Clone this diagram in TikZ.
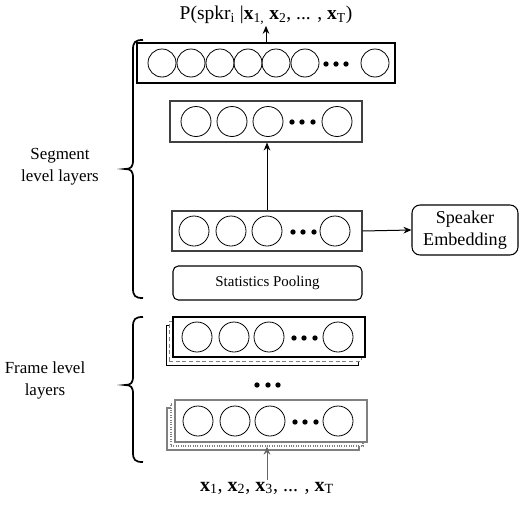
\documentclass[tikz,border=0pt]{standalone}
\usepackage{fontspec}
\setmainfont{Liberation Serif}
\usetikzlibrary{arrows.meta}
\tikzset{
  unit/.style={circle, draw, line width=0.6pt, minimum size=21pt, inner sep=0pt},
  bigunit/.style={unit, minimum size=22.5pt},
  dotnode/.style={circle, fill, inner sep=0pt, minimum size=4pt},
  layer/.style={draw, line width=0.8pt, inner sep=0pt, minimum height=30pt, fill=white},
  grayline/.style={draw=gray, line width=1.1pt},
  roundbox/.style={draw, line width=0.8pt, rounded corners=4pt, inner sep=0pt},
  conn/.style={line width=0.75pt, -{Stealth[length=6pt,width=5pt]}},
  brace/.style={line width=1.3pt},
  lbl/.style={font=\fontsize{12.7}{16.5}\selectfont, align=center},
}
\newcommand{\bx}[1]{\textbf{x}\textsubscript{#1}}
\begin{document}
\begin{tikzpicture}[x=0.75pt,y=-0.75pt]
\useasboundingbox (0,0) rectangle (519,532);

% ---------- top output layer ----------
\node[layer, minimum width=193.5pt, draw=black] (b1) at (266,63) {};
\foreach \i/\x in {1/162,2/191,3/220,4/248,5/276,6/305,7/375}
  \node[unit] (b1c\i) at (\x,63) {};
\foreach \i/\x in {1/326,2/336,3/346}
  \node[dotnode] (b1d\i) at (\x,64) {};

% ---------- second segment layer ----------
\node[layer, minimum width=144pt, minimum height=30.75pt, draw=black!75] (b2) at (266,121.5) {};
\foreach \i/\x in {1/196,2/232,3/268,4/337}
  \node[bigunit] (b2c\i) at (\x,121.5) {};
\foreach \i/\x in {1/292,2/302,3/313}
  \node[dotnode] (b2d\i) at (\x,122) {};

% ---------- embedding layer ----------
\node[layer, minimum width=142.5pt, draw=black!75] (b3) at (267,231) {};
\foreach \i/\x in {1/194,2/231,3/267,4/335}
  \node[bigunit] (b3c\i) at (\x,231) {};
\foreach \i/\x in {1/293,2/303,3/314}
  \node[dotnode] (b3d\i) at (\x,232) {};

% ---------- statistics pooling ----------
\node[roundbox, minimum width=141.75pt, minimum height=25.5pt,
      font=\fontsize{11.2}{13}\selectfont] (pool) at (267.5,283) {Statistics Pooling};

% ---------- speaker embedding ----------
\node[roundbox, rounded corners=6pt, minimum width=79.5pt, minimum height=37.5pt,
      lbl, font=\fontsize{13.6}{16}\selectfont] (spk) at (465,230) {Speaker\\Embedding};

% ---------- frame layer A ----------
\node[layer, minimum width=144pt, line width=0.7pt] (fAback) at (262,345) {};
\node[layer, minimum width=144pt, draw=gray, densely dashed, line width=0.6pt] (fAmid) at (265,341) {};
\node[layer, minimum width=144pt] (fA) at (269,337) {};
\foreach \i/\x in {1/197,2/234,3/269,4/338}
  \node[bigunit] (fAc\i) at (\x,337) {};
\foreach \i/\x in {1/294,2/304,3/315}
  \node[dotnode] (fAd\i) at (\x,338) {};

% ---------- gap dots ----------
\foreach \i/\x in {1/257,2/268,3/278}
  \node[dotnode] (gd\i) at (\x,385) {};

% ---------- frame layer B ----------
\node[layer, minimum width=144pt, minimum height=31.5pt, grayline] (fBback) at (263,429) {};
\node[layer, minimum width=144pt, minimum height=31.5pt, draw=gray, densely dotted, line width=1pt] (fBmid) at (267,425) {};
\node[layer, minimum width=144pt, minimum height=31.5pt, grayline] (fB) at (271,421) {};
\foreach \i/\x in {1/198,2/235,3/270,4/338}
  \node[bigunit] (fBc\i) at (\x,421) {};
\foreach \i/\x in {1/295,2/305,3/316}
  \node[dotnode] (fBd\i) at (\x,422) {};

% ---------- texts ----------
\node[font=\fontsize{14.6}{17}\selectfont, inner sep=1pt] (out) at (266,15)
  {P(spkr\textsubscript{i} |\bx{1,} \bx{2}, ... , \bx{T})};
\node[font=\fontsize{15}{17}\selectfont, inner sep=1pt] (in) at (267,488)
  {\bx{1}, \bx{2}, \bx{3}, ... , \bx{T}};
\node[lbl] (seg) at (60,167) {Segment\\level layers};
\node[lbl] (frm) at (45,380) {Frame level\\layers};

% ---------- connectors ----------
\draw[conn] (b1.north) -- (b1.north |- out.south);
\draw[conn] (b3.north) -- (b3.north |- b2.south);
\draw[conn] (b3.east) -- (spk.west);
\draw[conn, draw=gray!80!black] (in.north) -- (in.north |- fBmid.south);

% ---------- braces ----------
\draw[brace] (143,40) .. controls (135,40) and (133,42) .. (133,50) -- (133,160)
  .. controls (133,167) and (131,169) .. (125,169)
  .. controls (131,169) and (133,171) .. (133,178) -- (133,288)
  .. controls (133,296) and (135,298) .. (143,298);
\draw[brace] (143,317) .. controls (135,317) and (133,319) .. (133,327) -- (133,376)
  .. controls (133,383) and (131,385) .. (125,385)
  .. controls (131,385) and (133,387) .. (133,394) -- (133,452)
  .. controls (133,460) and (135,462) .. (143,462);
\end{tikzpicture}
\end{document}
